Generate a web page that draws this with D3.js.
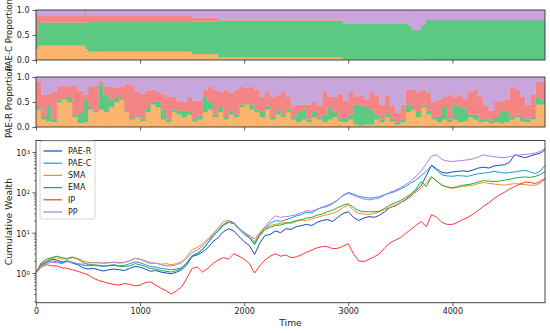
<!DOCTYPE html>
<html>
<head>
<meta charset="utf-8">
<script src="https://cdn.jsdelivr.net/npm/d3@7"></script>
<style>
body { margin: 0; background: #fff; }
text { font-family: "DejaVu Sans", sans-serif; fill: #222; }
</style>
</head>
<body>
<div id="chart"></div>
<script>
// ---- data ----
var keys = ["SMA", "EMA", "IP", "PP"];

// top panel: PAE-C mixing weights (step changes)
var topT   = [0, 20, 40, 460, 480, 500, 1500, 1750, 2950, 3580, 3610, 3640, 3700, 3740];
var topSMA = [.22, .30, .29, .27, .22, .17, .12, .05, .01, .01, .01, .01, .02, .0];
var topEMA = [.30, .50, .46, .48, .53, .59, .65, .74, .72, .67, .60, .59, .68, .80];
var topIP  = [.40, .08, .13, .25, .13, .12, .08, .02, .0, .0, .0, .0, .0, .0];
var topPP  = [.08, .12, .12, .0, .12, .12, .15, .19, .27, .32, .39, .40, .30, .20];

// middle panel: PAE-R mixing weights, one value every 50 steps
var midSMA = [.35,.15,.12,.10,.50,.55,.50,.20,.08,.10,.35,.30,.35,.30,.40,.50,.55,.30,.15,.20,
              .12,.30,.45,.40,.15,.10,.30,.25,.20,.25,.12,.15,.30,.35,.20,.30,.15,.25,.20,.40,
              .45,.35,.30,.20,.35,.15,.25,.20,.30,.15,.10,.15,.10,.20,.15,.10,.15,.20,.12,.10,
              .15,.05,.03,.05,.05,.15,.10,.20,.12,.05,.10,.30,.35,.20,.40,.25,.15,.10,.15,.10,
              .15,.10,.12,.20,.15,.10,.12,.08,.10,.08,.10,.15,.20,.12,.10,.15,.45,.45];
var midEMA = [.05,.05,.30,.05,.05,.03,.10,.02,.20,.45,.05,.02,.50,.35,.15,.08,.03,.02,.03,.05,
              .05,.08,.05,.10,.20,.05,.05,.08,.12,.05,.05,.08,.30,.15,.05,.10,.05,.08,.05,.05,
              .03,.10,.05,.10,.08,.05,.10,.05,.05,.05,.20,.20,.05,.10,.03,.15,.25,.10,.05,.08,
              .10,.40,.40,.35,.30,.10,.05,.08,.05,.03,.05,.15,.05,.10,.05,.08,.05,.10,.25,.05,
              .30,.30,.25,.05,.10,.05,.05,.05,.10,.25,.20,.05,.05,.08,.05,.05,.15,.10];
var midIP  = [.50,.45,.25,.55,.25,.25,.20,.60,.45,.10,.40,.50,.05,.15,.25,.20,.22,.55,.65,.45,
              .50,.35,.25,.20,.30,.45,.25,.20,.18,.30,.35,.30,.15,.30,.50,.30,.55,.35,.50,.35,
              .30,.35,.40,.30,.30,.40,.30,.45,.25,.20,.15,.10,.30,.20,.25,.45,.20,.30,.50,.35,
              .45,.15,.20,.15,.35,.40,.30,.35,.25,.20,.30,.30,.35,.40,.30,.35,.30,.35,.20,.50,
              .15,.25,.20,.45,.50,.45,.25,.20,.30,.20,.25,.60,.50,.40,.30,.45,.30,.35];
var midPP  = [.10,.35,.33,.30,.20,.17,.20,.18,.27,.35,.20,.18,.10,.20,.20,.22,.20,.13,.17,.30,
              .33,.27,.25,.30,.35,.40,.40,.47,.50,.40,.48,.47,.25,.20,.25,.30,.25,.32,.25,.20,
              .22,.20,.25,.40,.27,.40,.35,.30,.40,.60,.55,.55,.55,.50,.57,.30,.40,.40,.33,.47,
              .30,.40,.37,.45,.30,.35,.55,.37,.58,.72,.55,.25,.25,.30,.25,.32,.50,.45,.40,.35,
              .40,.35,.43,.30,.25,.40,.58,.67,.50,.47,.45,.20,.25,.40,.55,.35,.10,.10];

// bottom panel: cumulative wealth, one value every 50 steps (last one at 4890)
var paeR = [1.0,1.6,1.9,2.2,2.1,1.85,2.0,1.75,1.6,1.35,
            1.25,1.3,1.2,1.12,1.2,1.25,1.2,1.15,1.3,1.45,
            1.4,1.25,1.1,1.15,1.05,1.0,0.95,1.05,1.2,1.6,
            2.6,2.8,3.3,4.2,6,7.5,10.5,12.5,11,8,
            6,4.8,2.9,5.5,8.5,9,11,10,12.5,12,
            14,15,16,15,18,20,21,19,24,30,
            33,24,20,23,25,24,27,33,42,46,
            55,65,80,110,145,260,470,380,310,300,
            320,330,340,330,360,400,420,400,450,470,
            480,560,850,780,720,800,870,950,1130];
var paeC = [1.0,1.55,1.8,2.0,1.9,1.8,2.0,1.85,1.7,1.55,
            1.5,1.55,1.5,1.45,1.55,1.6,1.5,1.55,1.7,1.9,
            1.8,1.6,1.45,1.4,1.3,1.25,1.2,1.25,1.35,1.8,
            2.7,3.1,3.8,5.5,8.5,11,15,18,17,12,
            9,7.5,5.5,9,13,17,20,19,21,23,
            26,28,32,31,38,42,45,52,65,85,
            100,90,80,75,72,74,78,88,95,105,
            120,140,170,200,260,330,460,350,270,255,
            250,260,255,250,270,290,300,310,330,315,
            300,310,320,340,350,320,290,350,470];
var sma  = [1.0,1.7,2.0,2.3,2.4,2.2,2.2,2.4,2.3,2.0,
            1.85,1.8,1.8,1.75,1.8,1.85,1.8,1.85,2.0,2.3,
            2.2,1.9,1.7,1.75,1.65,1.7,1.6,1.7,1.9,2.6,
            3.8,4.3,5.2,7,9.5,13,19,20,17,13,
            10,8.5,6,9.5,13,15,16,17,18,17,
            19,20.5,20,22,24,26,28,30,34,42,
            48,36,30,29,28,30,33,38,42,48,
            55,68,85,100,125,170,245,190,150,135,
            125,132,140,145,150,165,175,168,160,155,
            150,158,165,160,155,150,150,170,220];
var ema  = [1.0,1.8,2.2,2.4,2.6,2.4,2.3,2.5,2.2,1.85,
            1.6,1.6,1.55,1.5,1.5,1.55,1.45,1.45,1.5,1.7,
            1.6,1.45,1.3,1.25,1.15,1.1,1.05,1.15,1.3,1.8,
            2.5,3.0,3.8,5.5,8,11,16,18,17,13,
            10,7.5,5,8.5,12,13.5,15,15.5,17,18,
            20,21,23,24,27,29,33,36,42,48,
            52,42,35,33,33,33,34,40,48,55,
            62,75,90,120,185,140,240,190,150,135,
            130,140,150,155,165,180,195,190,185,190,
            200,210,225,235,240,235,250,280,330];
var ip   = [1.0,1.4,1.6,1.5,1.5,1.35,1.3,1.2,1.1,1.0,
            0.9,0.75,0.65,0.6,0.55,0.52,0.5,0.55,0.52,0.48,
            0.5,0.58,0.6,0.5,0.42,0.36,0.30,0.36,0.45,0.75,
            1.3,1.4,1.05,1.3,1.7,2.1,2.4,2.2,3.0,2.6,
            2.2,1.7,1.0,1.5,2.1,2.6,3.0,2.6,2.8,2.4,
            2.5,2.8,3.3,3.7,4.2,4.5,4.5,4.0,4.1,4.6,
            5.3,3.0,2.0,1.9,2.2,2.5,3.0,4.2,5.5,6.5,
            7.5,9.5,12,15,19,14,28,24,18,16,
            16,18,21,24,29,36,45,55,70,85,
            100,120,140,160,180,175,165,190,220];
var pp   = [1.0,1.5,1.7,1.85,1.8,1.7,1.9,1.8,1.7,1.65,
            1.75,1.8,1.8,1.75,1.8,1.85,1.75,1.8,2.0,2.3,
            2.2,2.0,1.8,1.75,1.6,1.5,1.5,1.6,1.8,2.3,
            3.2,3.7,4.6,6.5,9,12,16,20,18,13,
            10,8.5,7,10,14,20,26,24,25,26,
            28,31,35,34,38,43,48,55,65,82,
            95,85,75,68,65,68,72,85,100,112,
            130,155,190,250,330,520,800,850,650,600,
            580,600,620,640,680,760,850,800,760,740,
            720,770,820,850,870,900,940,1050,1250];

var tMax = 4890;
var midT = d3.range(0, midSMA.length * 50, 50);
var lineT = d3.range(0, 4851, 50).concat([tMax]);

var areaColors = { SMA: "#fdb46d", EMA: "#5cc982", IP: "#f58585", PP: "#c8a6dc" };
var series = [
  { name: "PAE-R", vals: paeR, color: "#1546c8" },
  { name: "PAE-C", vals: paeC, color: "#1e96dc" },
  { name: "SMA",   vals: sma,  color: "#ff8c1a" },
  { name: "EMA",   vals: ema,  color: "#22a83a" },
  { name: "IP",    vals: ip,   color: "#ff3535" },
  { name: "PP",    vals: pp,   color: "#b07ee0" }
];

// ---- layout ----
var width = 550, height = 333;
var left = 36, right = 545;
var panels = {
  top: { y0: 10, y1: 60 },
  mid: { y0: 77, y1: 127 },
  bot: { y0: 140.5, y1: 302.7 }
};

var svg = d3.select("#chart").append("svg")
    .attr("width", width)
    .attr("height", height);

var x = d3.scaleLinear().domain([0, tMax]).range([left, right]);

function rows(ts, a, b, c, d) {
  var out = ts.map(function(t, i) {
    return { t: t, SMA: a[i], EMA: b[i], IP: c[i], PP: d[i] };
  });
  var last = out[out.length - 1];
  out.push({ t: tMax, SMA: last.SMA, EMA: last.EMA, IP: last.IP, PP: last.PP });
  return out;
}

function styleAxis(g) {
  g.select(".domain").remove();
  g.selectAll(".tick line").attr("stroke", "#333").attr("stroke-width", 0.8);
  g.selectAll(".tick text").style("font-size", "8px").attr("fill", "#222")
    .style("font-family", "DejaVu Sans, sans-serif");
}

function frame(p) {
  svg.append("rect")
    .attr("x", left).attr("y", p.y0)
    .attr("width", right - left).attr("height", p.y1 - p.y0)
    .attr("fill", "none").attr("stroke", "#333").attr("stroke-width", 0.9);
}

function propPanel(id, p, data, label) {
  var y = d3.scaleLinear().domain([0, 1]).range([p.y1, p.y0]);
  svg.append("clipPath").attr("id", id)
    .append("rect").attr("x", left).attr("y", p.y0)
    .attr("width", right - left).attr("height", p.y1 - p.y0);

  var stack = d3.stack().keys(keys).offset(d3.stackOffsetExpand);
  var area = d3.area()
    .curve(d3.curveStepAfter)
    .x(function(d) { return x(d.data.t); })
    .y0(function(d) { return y(d[0]); })
    .y1(function(d) { return y(d[1]); });

  svg.append("g").attr("clip-path", "url(#" + id + ")")
    .selectAll("path")
    .data(stack(data))
    .enter().append("path")
    .attr("fill", function(d) { return areaColors[d.key]; })
    .attr("stroke", function(d) { return areaColors[d.key]; })
    .attr("stroke-width", 0.3)
    .attr("d", area);

  var ya = svg.append("g")
    .attr("transform", "translate(" + left + ",0)")
    .call(d3.axisLeft(y).tickValues([0, 0.5, 1]).tickFormat(d3.format(".1f")).tickSize(3.5));
  styleAxis(ya);

  var xa = svg.append("g")
    .attr("transform", "translate(0," + p.y1 + ")")
    .call(d3.axisBottom(x).tickValues([0, 1000, 2000, 3000, 4000]).tickFormat("").tickSize(3.5));
  styleAxis(xa);

  frame(p);

  svg.append("text")
    .attr("transform", "translate(9," + ((p.y0 + p.y1) / 2) + ") rotate(-90)")
    .attr("text-anchor", "middle")
    .attr("dy", "0.35em")
    .style("font-size", "8.6px")
    .text(label);
}

propPanel("clipTop", panels.top, rows(topT, topSMA, topEMA, topIP, topPP), "PAE-C Proportion");
propPanel("clipMid", panels.mid, rows(midT, midSMA, midEMA, midIP, midPP), "PAE-R Proportion");

// ---- bottom: cumulative wealth ----
var pb = panels.bot;
var yLog = d3.scaleLog().domain([0.183, 1928]).range([pb.y1, pb.y0]);

svg.append("clipPath").attr("id", "clipBot")
  .append("rect").attr("x", left).attr("y", pb.y0)
  .attr("width", right - left).attr("height", pb.y1 - pb.y0);

var line = d3.line()
  .x(function(d) { return x(d[0]); })
  .y(function(d) { return yLog(d[1]); });

svg.append("g").attr("clip-path", "url(#clipBot)")
  .selectAll("path")
  .data(series)
  .enter().append("path")
  .attr("fill", "none")
  .attr("stroke", function(d) { return d.color; })
  .attr("stroke-width", 1)
  .attr("stroke-linejoin", "round")
  .attr("d", function(d) {
    return line(lineT.map(function(t, i) { return [t, d.vals[i]]; }));
  });

var majors = [1, 10, 100, 1000];
var minors = [];
[-1, 0, 1, 2, 3].forEach(function(e) {
  for (var m = 2; m < 10; m++) {
    var v = m * Math.pow(10, e);
    if (v > yLog.domain()[0] && v < yLog.domain()[1]) minors.push(v);
  }
});

var ylMin = svg.append("g")
  .attr("transform", "translate(" + left + ",0)")
  .call(d3.axisLeft(yLog).tickValues(minors).tickFormat("").tickSize(2));
styleAxis(ylMin);
ylMin.selectAll(".tick line").attr("stroke-width", 0.6);

var ylMaj = svg.append("g")
  .attr("transform", "translate(" + left + ",0)")
  .call(d3.axisLeft(yLog).tickValues(majors).tickFormat("").tickSize(3.5));
styleAxis(ylMaj);

ylMaj.selectAll(".tick").each(function(v) {
  var t = d3.select(this).append("text")
    .attr("x", -6).attr("dy", "0.45em")
    .attr("text-anchor", "end")
    .style("font-size", "8px");
  t.append("tspan").text("10");
  t.append("tspan").attr("dy", "-0.45em").style("font-size", "5.6px")
    .text(Math.round(Math.log10(v)));
});

var xb = svg.append("g")
  .attr("transform", "translate(0," + pb.y1 + ")")
  .call(d3.axisBottom(x).tickValues([0, 1000, 2000, 3000, 4000])
    .tickFormat(d3.format("d")).tickSize(3.5).tickPadding(2.5));
styleAxis(xb);

frame(pb);

svg.append("text")
  .attr("x", (left + right) / 2).attr("y", 326)
  .attr("text-anchor", "middle")
  .style("font-size", "9.2px")
  .text("Time");

svg.append("text")
  .attr("transform", "translate(9," + ((pb.y0 + pb.y1) / 2) + ") rotate(-90)")
  .attr("text-anchor", "middle")
  .attr("dy", "0.35em")
  .style("font-size", "9.2px")
  .text("Cumulative Wealth");

// legend
var lg = svg.append("g").attr("transform", "translate(40,141)");
lg.append("rect")
  .attr("width", 55).attr("height", 78).attr("rx", 2)
  .attr("fill", "#fff").attr("fill-opacity", 0.85)
  .attr("stroke", "#ccc").attr("stroke-width", 0.8);
var items = lg.selectAll("g.item").data(series).enter().append("g")
  .attr("transform", function(d, i) { return "translate(0," + (10 + i * 12.2) + ")"; });
items.append("line")
  .attr("x1", 3.5).attr("x2", 22)
  .attr("stroke", function(d) { return d.color; })
  .attr("stroke-width", 1.2);
items.append("text")
  .attr("x", 28).attr("dy", "0.35em")
  .style("font-size", "8px")
  .text(function(d) { return d.name; });
</script>
</body>
</html>
